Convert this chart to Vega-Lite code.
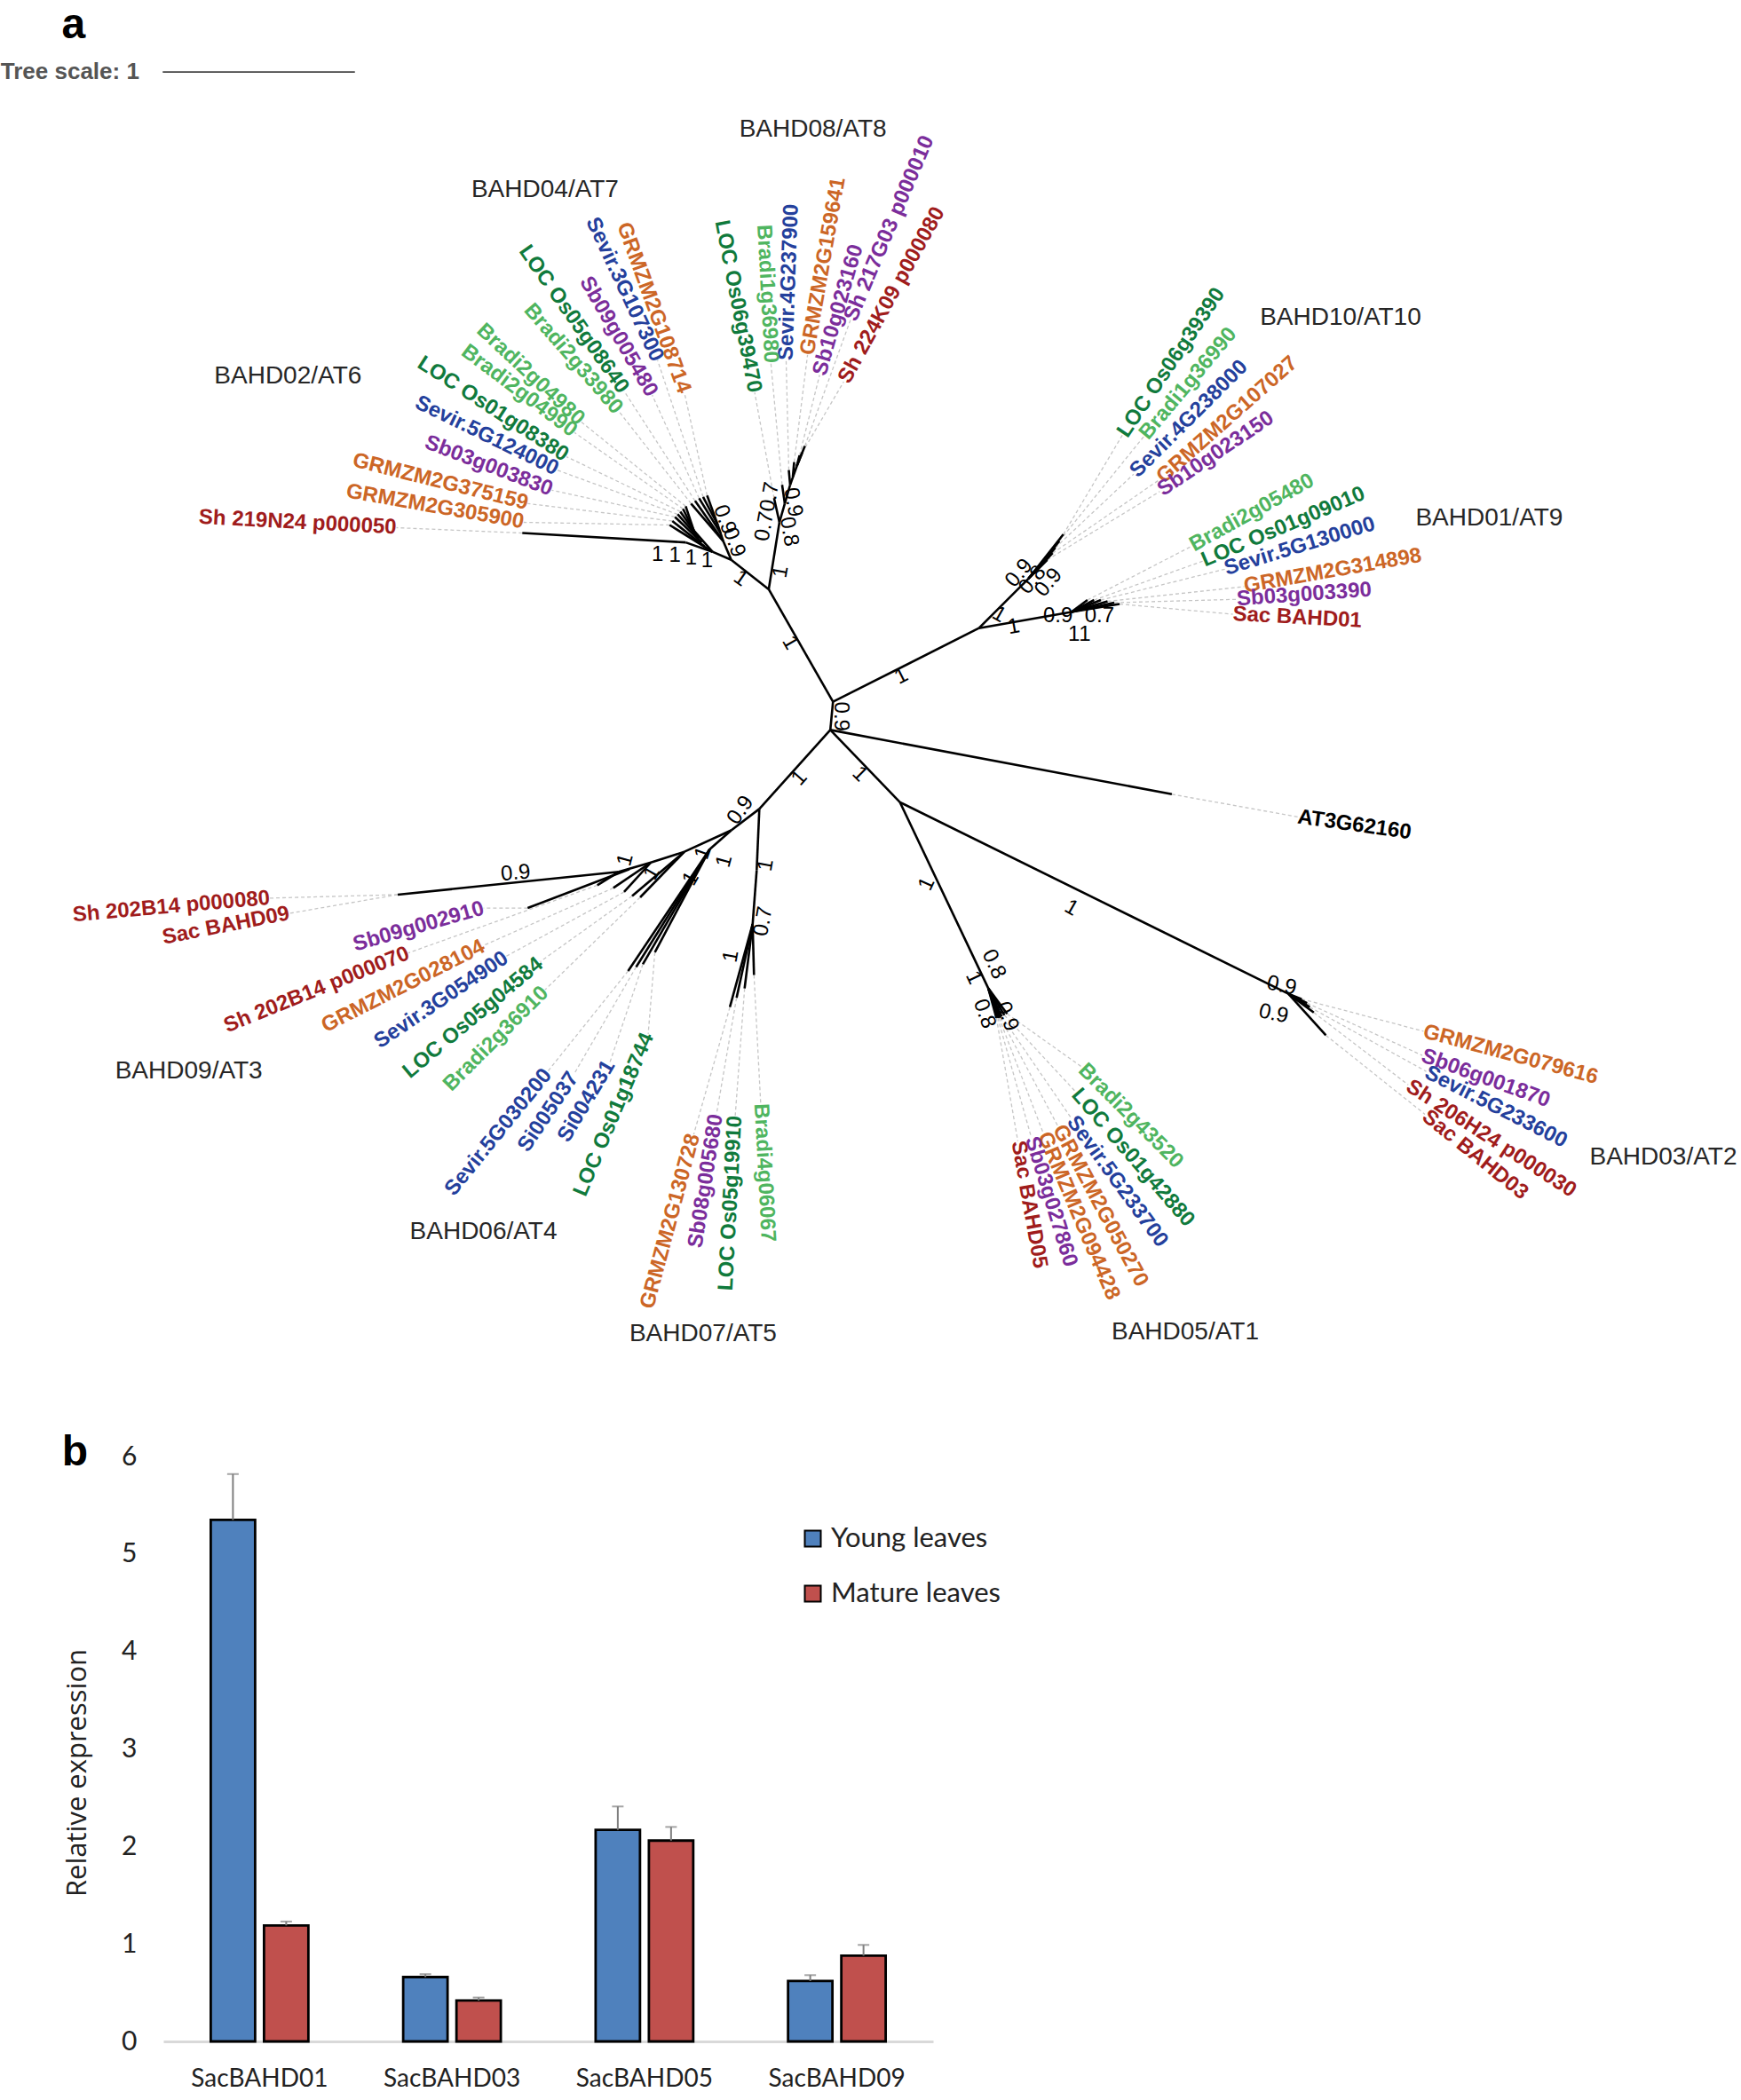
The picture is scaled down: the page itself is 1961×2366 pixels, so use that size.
{
"$schema": "https://vega.github.io/schema/vega-lite/v6.json",
"width": 1961, "height": 2366,
"autosize": {"type": "none"},
"padding": 0,
"background": "white",
"config": {"view": {"stroke": null}},
"datasets": {
"edges": [
{"x1":622,"y1":524,"x2":620,"y2":545},
{"x1":622,"y1":524,"x2":574,"y2":440},
{"x1":622,"y1":524,"x2":731,"y2":469},
{"x1":620,"y1":545,"x2":875,"y2":593},
{"x1":620,"y1":545,"x2":672,"y2":599},
{"x1":620,"y1":545,"x2":567,"y2":604},
{"x1":574,"y1":440,"x2":546,"y2":418},
{"x1":546,"y1":418,"x2":532,"y2":412},
{"x1":532,"y1":412,"x2":512,"y2":405},
{"x1":512,"y1":405,"x2":390,"y2":398},
{"x1":532,"y1":412,"x2":518,"y2":396},
{"x1":532,"y1":412,"x2":500,"y2":392},
{"x1":526,"y1":408,"x2":502,"y2":389},
{"x1":524,"y1":405,"x2":504,"y2":386},
{"x1":522,"y1":402,"x2":506,"y2":384},
{"x1":520,"y1":399,"x2":508,"y2":382},
{"x1":518,"y1":396,"x2":510,"y2":380},
{"x1":518,"y1":396,"x2":512,"y2":378},
{"x1":546,"y1":418,"x2":540,"y2":404},
{"x1":540,"y1":404,"x2":536,"y2":392},
{"x1":540,"y1":404,"x2":516,"y2":376},
{"x1":540,"y1":404,"x2":519,"y2":374},
{"x1":538,"y1":398,"x2":522,"y2":372},
{"x1":536,"y1":392,"x2":525,"y2":371},
{"x1":536,"y1":392,"x2":528,"y2":370},
{"x1":574,"y1":440,"x2":582,"y2":390},
{"x1":582,"y1":390,"x2":586,"y2":376},
{"x1":586,"y1":376,"x2":590,"y2":362},
{"x1":590,"y1":362,"x2":595,"y2":348},
{"x1":595,"y1":348,"x2":601,"y2":333},
{"x1":582,"y1":390,"x2":578,"y2":372},
{"x1":586,"y1":376,"x2":584,"y2":362},
{"x1":590,"y1":362,"x2":589,"y2":351},
{"x1":592,"y1":356,"x2":593,"y2":345},
{"x1":595,"y1":348,"x2":597,"y2":340},
{"x1":595,"y1":348,"x2":599,"y2":338},
{"x1":731,"y1":469,"x2":768,"y2":432},
{"x1":768,"y1":432,"x2":794,"y2":399},
{"x1":768,"y1":432,"x2":791,"y2":404},
{"x1":768,"y1":432,"x2":788,"y2":409},
{"x1":768,"y1":432,"x2":786,"y2":413},
{"x1":768,"y1":432,"x2":782,"y2":418},
{"x1":731,"y1":469,"x2":800,"y2":457},
{"x1":800,"y1":457,"x2":836,"y2":451},
{"x1":800,"y1":457,"x2":812,"y2":448},
{"x1":800,"y1":457,"x2":817,"y2":448},
{"x1":800,"y1":457,"x2":822,"y2":448},
{"x1":800,"y1":457,"x2":827,"y2":449},
{"x1":800,"y1":457,"x2":832,"y2":450},
{"x1":672,"y1":599,"x2":962,"y2":742},
{"x1":962,"y1":742,"x2":972,"y2":746},
{"x1":962,"y1":742,"x2":976,"y2":749},
{"x1":962,"y1":742,"x2":978,"y2":752},
{"x1":962,"y1":742,"x2":981,"y2":756},
{"x1":962,"y1":742,"x2":990,"y2":773},
{"x1":672,"y1":599,"x2":738,"y2":738},
{"x1":738,"y1":738,"x2":752,"y2":757},
{"x1":738,"y1":738,"x2":750,"y2":758},
{"x1":738,"y1":738,"x2":748,"y2":759},
{"x1":738,"y1":738,"x2":747,"y2":760},
{"x1":738,"y1":738,"x2":746,"y2":760},
{"x1":738,"y1":738,"x2":745,"y2":760},
{"x1":738,"y1":738,"x2":744,"y2":760},
{"x1":567,"y1":604,"x2":565,"y2":650},
{"x1":565,"y1":650,"x2":562,"y2":690},
{"x1":562,"y1":690,"x2":545,"y2":752},
{"x1":562,"y1":690,"x2":550,"y2":745},
{"x1":562,"y1":690,"x2":556,"y2":738},
{"x1":562,"y1":690,"x2":563,"y2":728},
{"x1":567,"y1":604,"x2":546,"y2":620},
{"x1":546,"y1":620,"x2":511,"y2":636},
{"x1":511,"y1":636,"x2":486,"y2":644},
{"x1":486,"y1":644,"x2":462,"y2":651},
{"x1":462,"y1":651,"x2":297,"y2":668},
{"x1":546,"y1":620,"x2":530,"y2":634},
{"x1":530,"y1":634,"x2":469,"y2":725},
{"x1":530,"y1":634,"x2":475,"y2":722},
{"x1":530,"y1":634,"x2":480,"y2":720},
{"x1":530,"y1":634,"x2":489,"y2":711},
{"x1":511,"y1":636,"x2":478,"y2":670},
{"x1":511,"y1":636,"x2":472,"y2":669},
{"x1":486,"y1":644,"x2":466,"y2":666},
{"x1":486,"y1":644,"x2":458,"y2":663},
{"x1":462,"y1":651,"x2":446,"y2":661},
{"x1":470,"y1":649,"x2":394,"y2":678}
],
"leaves": [
{"name":"Sh 219N24 p000050","sp":"sac","tx":390,"ty":398,"ax":296,"ay":394,"rot":3,"side":"in"},
{"name":"GRMZM2G305900","sp":"zea","tx":500,"ty":392,"ax":391,"ay":390,"rot":10,"side":"in"},
{"name":"GRMZM2G375159","sp":"zea","tx":502,"ty":389,"ax":394,"ay":376,"rot":14,"side":"in"},
{"name":"Sb03g003830","sp":"sor","tx":504,"ty":386,"ax":412,"ay":366,"rot":21,"side":"in"},
{"name":"Sevir.5G124000","sp":"set","tx":506,"ty":384,"ax":416,"ay":351,"rot":26,"side":"in"},
{"name":"LOC Os01g08380","sp":"ory","tx":508,"ty":382,"ax":423,"ay":341,"rot":33,"side":"in"},
{"name":"Bradi2g04990","sp":"bra","tx":510,"ty":380,"ax":429,"ay":323,"rot":37,"side":"in"},
{"name":"Bradi2g04980","sp":"bra","tx":512,"ty":378,"ax":434,"ay":315,"rot":43,"side":"in"},
{"name":"Bradi2g33980","sp":"bra","tx":516,"ty":376,"ax":462,"ay":307,"rot":49,"side":"in"},
{"name":"LOC Os05g08640","sp":"ory","tx":519,"ty":374,"ax":466,"ay":292,"rot":55,"side":"in"},
{"name":"Sb09g005480","sp":"sor","tx":522,"ty":372,"ax":487,"ay":295,"rot":60,"side":"in"},
{"name":"Sevir.3G107300","sp":"set","tx":525,"ty":371,"ax":491,"ay":269,"rot":65,"side":"in"},
{"name":"GRMZM2G108714","sp":"zea","tx":528,"ty":370,"ax":511,"ay":293,"rot":70,"side":"in"},
{"name":"LOC Os06g39470","sp":"ory","tx":578,"ty":372,"ax":563.5,"ay":293,"rot":79,"side":"in"},
{"name":"Bradi1g36980","sp":"bra","tx":584,"ty":362,"ax":575.6,"ay":271,"rot":87,"side":"in"},
{"name":"Sevir.4G237900","sp":"set","tx":589,"ty":351,"ax":587,"ay":269,"rot":-88,"side":"out"},
{"name":"GRMZM2G159641","sp":"zea","tx":593,"ty":345,"ax":603,"ay":265,"rot":-80,"side":"out"},
{"name":"Sb10g023160","sp":"sor","tx":597,"ty":340,"ax":612,"ay":280,"rot":-74,"side":"out"},
{"name":"Sh 217G03 p000010","sp":"sor","tx":601,"ty":333,"ax":635,"ay":239,"rot":-67,"side":"out"},
{"name":"Sh 224K09 p000080","sp":"sac","tx":599,"ty":338,"ax":630,"ay":285,"rot":-61,"side":"out"},
{"name":"LOC Os06g39390","sp":"ory","tx":794,"ty":399,"ax":838,"ay":325,"rot":-56,"side":"out"},
{"name":"Bradi1g36990","sp":"bra","tx":791,"ty":404,"ax":854,"ay":326,"rot":-50,"side":"out"},
{"name":"Sevir.4G238000","sp":"set","tx":788,"ty":409,"ax":846.5,"ay":354,"rot":-45,"side":"out"},
{"name":"GRMZM2G107027","sp":"zea","tx":786,"ty":413,"ax":866,"ay":358,"rot":-41.5,"side":"out"},
{"name":"Sb10g023150","sp":"sor","tx":782,"ty":418,"ax":866,"ay":367,"rot":-34,"side":"out"},
{"name":"Bradi2g05480","sp":"bra","tx":812,"ty":448,"ax":889.5,"ay":408,"rot":-29,"side":"out"},
{"name":"LOC Os01g09010","sp":"ory","tx":817,"ty":448,"ax":898,"ay":419,"rot":-23,"side":"out"},
{"name":"Sevir.5G130000","sp":"set","tx":822,"ty":448,"ax":914.6,"ay":425,"rot":-17,"side":"out"},
{"name":"GRMZM2G314898","sp":"zea","tx":827,"ty":449,"ax":929,"ay":438,"rot":-10,"side":"out"},
{"name":"Sb03g003390","sp":"sor","tx":832,"ty":450,"ax":923.5,"ay":447.5,"rot":-4,"side":"out"},
{"name":"Sac BAHD01","sp":"sac","tx":836,"ty":451,"ax":920.5,"ay":458.6,"rot":3,"side":"out"},
{"name":"AT3G62160","sp":"ara","tx":875,"ty":593,"ax":969,"ay":610,"rot":8,"side":"out"},
{"name":"GRMZM2G079616","sp":"zea","tx":972,"ty":746,"ax":1063,"ay":770,"rot":15,"side":"out"},
{"name":"Sb06g001870","sp":"sor","tx":976,"ty":749,"ax":1062,"ay":788,"rot":20,"side":"out"},
{"name":"Sevir.5G233600","sp":"set","tx":978,"ty":752,"ax":1065,"ay":800,"rot":27,"side":"out"},
{"name":"Sh 206H24 p000030","sp":"sac","tx":981,"ty":756,"ax":1051.5,"ay":810,"rot":33,"side":"out"},
{"name":"Sac BAHD03","sp":"sac","tx":990,"ty":773,"ax":1064,"ay":832,"rot":39,"side":"out"},
{"name":"Bradi2g43520","sp":"bra","tx":752,"ty":757,"ax":807.7,"ay":796.6,"rot":45,"side":"out"},
{"name":"LOC Os01g42880","sp":"ory","tx":750,"ty":758,"ax":803,"ay":815,"rot":49,"side":"out"},
{"name":"Sevir.5G233700","sp":"set","tx":748,"ty":759,"ax":800,"ay":835,"rot":54,"side":"out"},
{"name":"GRMZM2G050270","sp":"zea","tx":747,"ty":760,"ax":790,"ay":841,"rot":62,"side":"out"},
{"name":"GRMZM2G094428","sp":"zea","tx":746,"ty":760,"ax":779,"ay":846,"rot":67,"side":"out"},
{"name":"Sb03g027860","sp":"sor","tx":745,"ty":760,"ax":770,"ay":849,"rot":73,"side":"out"},
{"name":"Sac BAHD05","sp":"sac","tx":744,"ty":760,"ax":760,"ay":852,"rot":80,"side":"out"},
{"name":"GRMZM2G130728","sp":"zea","tx":545,"ty":752,"ax":518,"ay":847,"rot":-75,"side":"in"},
{"name":"Sb08g005680","sp":"sor","tx":550,"ty":745,"ax":535,"ay":832,"rot":-81,"side":"in"},
{"name":"LOC Os05g19910","sp":"ory","tx":556,"ty":738,"ax":549,"ay":833,"rot":-87,"side":"in"},
{"name":"Bradi4g06067","sp":"bra","tx":563,"ty":728,"ax":568,"ay":824,"rot":87,"side":"out"},
{"name":"Sh 202B14 p000080","sp":"sac","tx":297,"ty":668,"ax":201.5,"ay":670.6,"rot":-5,"side":"in"},
{"name":"Sac BAHD09","sp":"sac","tx":297,"ty":668,"ax":216,"ay":682,"rot":-11,"side":"in"},
{"name":"Sb09g002910","sp":"sor","tx":394,"ty":678,"ax":361,"ay":678,"rot":-16,"side":"in"},
{"name":"Sh 202B14 p000070","sp":"sac","tx":446,"ty":661,"ax":305,"ay":711.5,"rot":-22,"side":"in"},
{"name":"GRMZM2G028104","sp":"zea","tx":458,"ty":663,"ax":361,"ay":706,"rot":-27,"side":"in"},
{"name":"Sevir.3G054900","sp":"set","tx":466,"ty":666,"ax":378,"ay":714,"rot":-34,"side":"in"},
{"name":"LOC Os05g04584","sp":"ory","tx":472,"ty":669,"ax":403.4,"ay":718,"rot":-40,"side":"in"},
{"name":"Bradi2g36910","sp":"bra","tx":478,"ty":670,"ax":407,"ay":739,"rot":-45,"side":"in"},
{"name":"Sevir.5G030200","sp":"set","tx":469,"ty":725,"ax":409,"ay":800,"rot":-51,"side":"in"},
{"name":"Si005037","sp":"set","tx":475,"ty":722,"ax":428.6,"ay":802,"rot":-56,"side":"in"},
{"name":"Si004231","sp":"set","tx":480,"ty":720,"ax":455.5,"ay":793,"rot":-59,"side":"in"},
{"name":"LOC Os01g18744","sp":"ory","tx":489,"ty":711,"ax":484,"ay":772,"rot":-67,"side":"in"}
],
"boot": [
{"v":"0.9","x":628,"y":535,"rot":90},
{"v":"1","x":590,"y":480,"rot":60},
{"v":"1","x":673,"y":505,"rot":-27},
{"v":"1","x":597,"y":581,"rot":-48},
{"v":"1","x":642,"y":578,"rot":45},
{"v":"0.9","x":553,"y":605,"rot":-55},
{"v":"1","x":553,"y":432,"rot":35},
{"v":"1","x":583,"y":427,"rot":-80},
{"v":"1","x":491,"y":414,"rot":0},
{"v":"1","x":504,"y":415,"rot":0},
{"v":"1","x":516,"y":417,"rot":0},
{"v":"1","x":528,"y":419,"rot":0},
{"v":"0.9","x":541,"y":388,"rot":70},
{"v":"0.9","x":548,"y":405,"rot":70},
{"v":"0.7","x":571,"y":393,"rot":-80},
{"v":"0.7","x":575,"y":371,"rot":-80},
{"v":"0.8","x":589,"y":397,"rot":80},
{"v":"0.9","x":592,"y":375,"rot":80},
{"v":"1","x":746,"y":459,"rot":30},
{"v":"1","x":757,"y":468,"rot":-10},
{"v":"0.9","x":761,"y":428,"rot":-50},
{"v":"0.8","x":771,"y":433,"rot":-50},
{"v":"0.9","x":783,"y":435,"rot":-50},
{"v":"0.9","x":790,"y":460,"rot":0},
{"v":"0.7","x":821,"y":460,"rot":0},
{"v":"1","x":802,"y":474,"rot":0},
{"v":"1","x":810,"y":474,"rot":0},
{"v":"1","x":800,"y":678,"rot":30},
{"v":"0.9","x":957,"y":736,"rot":12},
{"v":"0.9","x":951,"y":757,"rot":12},
{"v":"1","x":692,"y":660,"rot":-65},
{"v":"0.8","x":742,"y":720,"rot":65},
{"v":"1","x":727,"y":730,"rot":65},
{"v":"0.9","x":752,"y":759,"rot":70},
{"v":"0.8","x":735,"y":757,"rot":70},
{"v":"1","x":572,"y":646,"rot":-80},
{"v":"0.7","x":570,"y":688,"rot":-80},
{"v":"1","x":546,"y":714,"rot":-80},
{"v":"0.9","x":385,"y":652,"rot":-5},
{"v":"1","x":467,"y":642,"rot":-75},
{"v":"1","x":487,"y":652,"rot":-60},
{"v":"1","x":516,"y":656,"rot":-60},
{"v":"1","x":525,"y":637,"rot":-70},
{"v":"1","x":541,"y":643,"rot":-75}
],
"clades": [
{"c":"BAHD08/AT8","x":607,"y":97},
{"c":"BAHD04/AT7","x":407,"y":142},
{"c":"BAHD02/AT6","x":215,"y":281},
{"c":"BAHD10/AT10","x":1001,"y":237},
{"c":"BAHD01/AT9","x":1112,"y":387},
{"c":"BAHD09/AT3","x":141,"y":800},
{"c":"BAHD06/AT4","x":361,"y":920},
{"c":"BAHD07/AT5","x":525,"y":996},
{"c":"BAHD05/AT1","x":885,"y":995},
{"c":"BAHD03/AT2","x":1242,"y":864}
],
"panels": [
{"p":"a","x":55,"y":19},
{"p":"b","x":56,"y":1085}
],
"scalebar": [{"t":"Tree scale: 1","x1":121.5,"x2":265,"y":53.7,"tx":0.5}],
"bars": [
{"gene":"SacBAHD01","tissue":"Young leaves","value":5.35,"upper":5.82},
{"gene":"SacBAHD01","tissue":"Mature leaves","value":1.19,"upper":1.23},
{"gene":"SacBAHD03","tissue":"Young leaves","value":0.66,"upper":0.69},
{"gene":"SacBAHD03","tissue":"Mature leaves","value":0.42,"upper":0.45},
{"gene":"SacBAHD05","tissue":"Young leaves","value":2.17,"upper":2.41},
{"gene":"SacBAHD05","tissue":"Mature leaves","value":2.06,"upper":2.2},
{"gene":"SacBAHD09","tissue":"Young leaves","value":0.62,"upper":0.68},
{"gene":"SacBAHD09","tissue":"Mature leaves","value":0.88,"upper":0.99}
]
},
"layer": [
{
"layer": [
{
"data": {"name": "leaves"},
"mark": {"type": "rule", "color": "#c6c6c6", "strokeWidth": 1.3, "strokeDash": [4, 3]},
"encoding": {
"x": {"field": "tx", "type": "quantitative", "scale": {"domain": [0, 1300], "nice": false, "zero": false}, "axis": null},
"y": {"field": "ty", "type": "quantitative", "scale": {"domain": [0, 1568], "nice": false, "zero": false, "reverse": true}, "axis": null},
"x2": {"field": "ax"},
"y2": {"field": "ay"}
}
},
{
"data": {"name": "edges"},
"mark": {"type": "rule", "color": "black", "strokeWidth": 2.6},
"encoding": {
"x": {"field": "x1", "type": "quantitative", "scale": {"domain": [0, 1300], "nice": false, "zero": false}, "axis": null},
"y": {"field": "y1", "type": "quantitative", "scale": {"domain": [0, 1568], "nice": false, "zero": false, "reverse": true}, "axis": null},
"x2": {"field": "x2"},
"y2": {"field": "y2"}
}
},
{
"data": {"name": "leaves"},
"transform": [{"filter": "datum.side == 'out'"}],
"mark": {"type": "text", "align": "left", "baseline": "middle", "font": "Liberation Sans", "fontWeight": "bold", "fontSize": 24},
"encoding": {
"x": {"field": "ax", "type": "quantitative", "scale": {"domain": [0, 1300], "nice": false, "zero": false}, "axis": null},
"y": {"field": "ay", "type": "quantitative", "scale": {"domain": [0, 1568], "nice": false, "zero": false, "reverse": true}, "axis": null},
"text": {"field": "name"},
"angle": {"field": "rot", "type": "quantitative", "scale": null},
"color": {"field": "sp", "type": "nominal", "scale": {"domain": ["sac","zea","sor","set","ory","bra","ara"], "range": ["#a01c1c","#cc6626","#7b2d9b","#24409c","#107a3c","#4fb560","#000000"]}, "legend": null}
}
},
{
"data": {"name": "leaves"},
"transform": [{"filter": "datum.side == 'in'"}],
"mark": {"type": "text", "align": "right", "baseline": "middle", "font": "Liberation Sans", "fontWeight": "bold", "fontSize": 24},
"encoding": {
"x": {"field": "ax", "type": "quantitative", "scale": {"domain": [0, 1300], "nice": false, "zero": false}, "axis": null},
"y": {"field": "ay", "type": "quantitative", "scale": {"domain": [0, 1568], "nice": false, "zero": false, "reverse": true}, "axis": null},
"text": {"field": "name"},
"angle": {"field": "rot", "type": "quantitative", "scale": null},
"color": {"field": "sp", "type": "nominal", "scale": {"domain": ["sac","zea","sor","set","ory","bra","ara"], "range": ["#a01c1c","#cc6626","#7b2d9b","#24409c","#107a3c","#4fb560","#000000"]}, "legend": null}
}
},
{
"data": {"name": "boot"},
"mark": {"type": "text", "align": "center", "baseline": "middle", "font": "Liberation Sans", "fontSize": 24, "color": "black"},
"encoding": {
"x": {"field": "x", "type": "quantitative", "scale": {"domain": [0, 1300], "nice": false, "zero": false}, "axis": null},
"y": {"field": "y", "type": "quantitative", "scale": {"domain": [0, 1568], "nice": false, "zero": false, "reverse": true}, "axis": null},
"text": {"field": "v"},
"angle": {"field": "rot", "type": "quantitative", "scale": null}
}
},
{
"data": {"name": "clades"},
"mark": {"type": "text", "align": "center", "baseline": "middle", "font": "Liberation Sans", "fontSize": 28, "color": "#262626"},
"encoding": {
"x": {"field": "x", "type": "quantitative", "scale": {"domain": [0, 1300], "nice": false, "zero": false}, "axis": null},
"y": {"field": "y", "type": "quantitative", "scale": {"domain": [0, 1568], "nice": false, "zero": false, "reverse": true}, "axis": null},
"text": {"field": "c"}
}
},
{
"data": {"name": "panels"},
"mark": {"type": "text", "align": "center", "baseline": "middle", "font": "Liberation Sans", "fontWeight": "bold", "fontSize": 48, "color": "black"},
"encoding": {
"x": {"field": "x", "type": "quantitative", "scale": {"domain": [0, 1300], "nice": false, "zero": false}, "axis": null},
"y": {"field": "y", "type": "quantitative", "scale": {"domain": [0, 1568], "nice": false, "zero": false, "reverse": true}, "axis": null},
"text": {"field": "p"}
}
},
{
"data": {"name": "scalebar"},
"mark": {"type": "rule", "color": "#444444", "strokeWidth": 1.8},
"encoding": {
"x": {"field": "x1", "type": "quantitative", "scale": {"domain": [0, 1300], "nice": false, "zero": false}, "axis": null},
"y": {"field": "y", "type": "quantitative", "scale": {"domain": [0, 1568], "nice": false, "zero": false, "reverse": true}, "axis": null},
"x2": {"field": "x2"}
}
},
{
"data": {"name": "scalebar"},
"mark": {"type": "text", "align": "left", "baseline": "middle", "font": "Liberation Sans", "fontWeight": "bold", "fontSize": 26, "color": "#555555"},
"encoding": {
"x": {"field": "tx", "type": "quantitative", "scale": {"domain": [0, 1300], "nice": false, "zero": false}, "axis": null},
"y": {"field": "y", "type": "quantitative", "scale": {"domain": [0, 1568], "nice": false, "zero": false, "reverse": true}, "axis": null},
"text": {"field": "t"}
}
}
]
},
{
"data": {"name": "bars"},
"encoding": {
"x": {"field": "gene", "type": "nominal", "scale": {"range": [184, 1051], "paddingInner": 0, "paddingOuter": 0},
  "axis": {"orient": "bottom", "offset": -66, "title": null, "ticks": false, "tickSize": 0, "domainColor": "#d9d9d9", "domainWidth": 3, "labelFont": "Lato", "labelFontSize": 28, "labelColor": "#222222", "labelPadding": 28, "labelAngle": 0}},
"xOffset": {"field": "tissue", "type": "nominal", "scale": {"domain": ["Young leaves", "Mature leaves"], "paddingInner": 0.167, "paddingOuter": 0.89}}
},
"layer": [
{
"mark": {"type": "bar", "stroke": "black", "strokeWidth": 2.8},
"encoding": {
"y": {"field": "value", "type": "quantitative", "scale": {"domain": [0, 6], "range": [2300, 1641], "nice": false, "zero": true},
  "axis": {"orient": "left", "offset": -184, "values": [0,1,2,3,4,5,6], "format": "d", "domain": false, "ticks": false, "grid": false, "labelFont": "Lato", "labelFontSize": 30, "labelColor": "#222222", "labelPadding": 30,
  "title": "Relative expression", "titleFont": "Open Sans", "titleFontSize": 31, "titleFontWeight": "normal", "titleColor": "#222222", "titleX": -97, "titleY": 1997, "titleBaseline": "middle", "titleAngle": -90}},
"color": {"field": "tissue", "type": "nominal", "scale": {"domain": ["Young leaves", "Mature leaves"], "range": ["#4F81BD", "#C0504D"]},
  "legend": {"orient": "none", "legendX": 900, "legendY": 1718, "title": null, "padding": 0, "labelFont": "Lato", "labelFontSize": 31, "labelLimit": 0, "labelColor": "#222222", "symbolType": "square", "symbolSize": 324, "symbolStrokeColor": "black", "symbolStrokeWidth": 2, "symbolOpacity": 1, "rowPadding": 30, "labelOffset": 5}}
}
},
{
"mark": {"type": "rule", "color": "#7f7f7f", "strokeWidth": 2},
"encoding": {
"y": {"field": "value", "type": "quantitative"},
"y2": {"field": "upper"}
}
},
{
"mark": {"type": "tick", "color": "#7f7f7f", "thickness": 2, "size": 13, "orient": "horizontal"},
"encoding": {
"y": {"field": "upper", "type": "quantitative"}
}
}
]
}
],
"resolve": {"scale": {"x": "independent", "y": "independent", "color": "independent"}, "axis": {"x": "independent", "y": "independent"}, "legend": {"color": "independent"}}
}
